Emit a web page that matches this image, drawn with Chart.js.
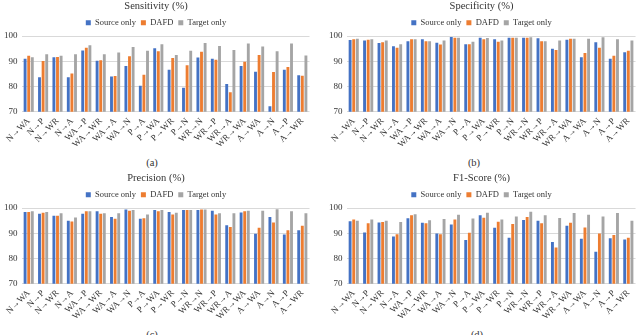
<!DOCTYPE html>
<html><head><meta charset="utf-8">
<script src="https://cdn.jsdelivr.net/npm/chart.js@4.4.1/dist/chart.umd.min.js"></script>
<style>
html,body{margin:0;padding:0;background:#fff;width:640px;height:335px;overflow:hidden;position:relative;font-family:"Liberation Serif","Times New Roman",serif;}
canvas{position:absolute;}
.cap{position:absolute;font-size:10.5px;color:#333;transform:translate(-50%,-50%);white-space:nowrap;}
</style></head><body>
<canvas id="c0" width="314" height="154" style="left:0;top:0"></canvas>
<canvas id="c1" width="315" height="154" style="left:325px;top:0"></canvas>
<canvas id="c2" width="314" height="154" style="left:0;top:172px"></canvas>
<canvas id="c3" width="315" height="154" style="left:325px;top:172px"></canvas>
<div class="cap" style="left:152px;top:162px">(a)</div>
<div class="cap" style="left:474px;top:162px">(b)</div>
<div class="cap" style="left:152px;top:334px">(c)</div>
<div class="cap" style="left:477px;top:334px">(d)</div>
<script>
const categories = ['N→WA','N→P','N→WR','N→A','WA→P','WA→WR','WA→A','WA→N','P→A','P→WA','P→WR','P→N','WR→N','WR→P','WR→A','WR→WA','A→WA','A→N','A→P','A→WR'];
const seriesNames = ['Source only','DAFD','Target only'];
const titles = ['Sensitivity (%)','Specificity (%)','Precision (%)','F1-Score (%)'];

const sensSource = [91.0,83.7,91.6,83.7,94.3,90.2,84.0,88.2,80.3,95.2,86.7,79.5,91.5,91.0,81.0,88.2,85.9,72.2,86.7,84.5];
const sensDAFD   = [92.2,90.1,91.7,85.2,95.4,90.4,84.2,92.0,84.7,94.0,91.3,88.5,93.8,90.6,77.8,89.8,92.5,85.8,87.8,84.3];
const sensTarget = [91.6,92.8,92.2,92.8,96.4,92.8,93.5,95.7,94.2,96.8,92.5,94.2,97.3,96.1,94.5,97.1,95.9,94.0,97.1,92.3];

const specSource = [98.5,98.3,97.3,96.0,98.0,98.8,97.4,99.6,96.8,99.3,98.8,99.3,99.3,99.1,95.0,98.6,91.6,97.6,91.0,93.6];
const specDAFD   = [98.8,98.6,97.6,95.4,98.8,98.0,96.7,99.3,96.8,98.8,97.8,99.3,99.3,98.0,94.5,99.0,93.3,95.4,92.2,94.2];
const specTarget = [99.0,98.8,98.3,96.8,98.8,98.0,98.3,99.3,97.8,99.2,98.3,99.3,99.5,98.0,98.3,99.0,99.0,99.5,98.8,98.3];

const precSource = [98.5,97.8,97.0,95.0,97.8,98.8,96.5,99.4,95.8,99.2,98.5,99.2,99.2,99.0,93.2,98.3,89.8,96.5,89.5,91.2];
const precDAFD   = [98.5,98.2,97.0,94.7,98.8,97.8,95.8,99.0,96.0,98.8,97.5,99.2,99.4,97.5,92.5,98.8,92.2,94.3,91.2,93.0];
const precTarget = [98.8,98.5,98.0,96.3,98.8,98.0,98.0,99.2,97.5,99.2,98.2,99.2,99.4,98.0,98.0,99.0,99.0,99.5,98.8,98.0];

const f1Source = [94.8,90.3,94.3,88.8,96.0,94.2,89.9,93.5,87.4,97.2,92.2,88.3,95.3,95.0,86.6,93.0,87.9,82.7,88.1,87.6];
const f1DAFD   = [95.5,94.0,94.5,89.6,97.2,94.0,89.6,95.5,90.2,96.2,94.6,93.7,96.5,94.0,84.4,94.2,92.3,89.9,89.3,88.3];
const f1Target = [95.0,95.5,95.0,94.5,97.6,95.2,95.7,97.4,95.9,98.2,95.5,96.7,98.6,97.2,96.1,98.1,97.4,96.7,98.1,95.0];

const colors = ['#4472C4','#ED7D31','#A5A5A5'];
const FONT = '"Liberation Serif","Times New Roman",serif';

const legendGap = {
  id: 'legendGap',
  beforeLayout(chart) {
    const lg = chart.legend;
    if (lg && !lg._gapPatched) {
      const orig = lg.fit;
      lg.fit = function () { orig.call(this); this.height -= 1; };
      lg._gapPatched = true;
    }
  }
};

function makeChart(id, title, s1, s2, s3) {
  new Chart(document.getElementById(id), {
    type: 'bar',
    data: {
      labels: categories,
      datasets: [s1, s2, s3].map((d, i) => ({
        label: seriesNames[i], data: d, backgroundColor: colors[i],
        categoryPercentage: 0.75, barPercentage: 0.8
      }))
    },
    plugins: [legendGap],
    options: {
      responsive: false, animation: false,
      layout: { padding: { left: 0, right: 2, top: 0, bottom: 0 } },
      plugins: {
        title: { display: true, text: title, color: '#333', font: { family: FONT, size: 10.5, weight: 'normal' }, padding: { top: 0, bottom: 1 } },
        legend: { display: true, labels: { boxWidth: 5, boxHeight: 5, padding: 5, color: '#333', font: { family: FONT, size: 8.5 } } },
        tooltip: { enabled: false }
      },
      scales: {
        x: {
          grid: { display: false, drawTicks: false },
          border: { display: false },
          ticks: { autoSkip: false, maxRotation: 45, minRotation: 45, padding: 4, color: '#333', font: { family: FONT, size: 9 } }
        },
        y: {
          min: 70, max: 100,
          grid: { color: '#D9D9D9', drawTicks: false },
          border: { display: false },
          ticks: { stepSize: 5, padding: 4, color: '#333', font: { family: FONT, size: 9 } }
        }
      }
    }
  });
}
makeChart('c0', titles[0], sensSource, sensDAFD, sensTarget);
makeChart('c1', titles[1], specSource, specDAFD, specTarget);
makeChart('c2', titles[2], precSource, precDAFD, precTarget);
makeChart('c3', titles[3], f1Source, f1DAFD, f1Target);
</script>
</body></html>
